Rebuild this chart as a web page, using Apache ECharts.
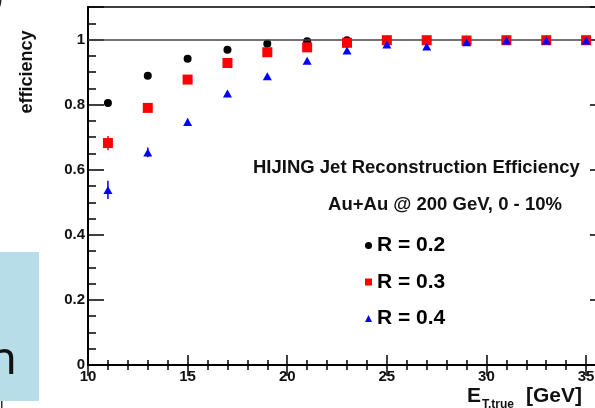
<!DOCTYPE html>
<html>
<head>
<meta charset="utf-8">
<script src="https://cdn.jsdelivr.net/npm/echarts@6/dist/echarts.min.js"></script>
<style>
html,body{margin:0;padding:0;background:#fff;}
#chart{width:595px;height:408px;}
</style>
</head>
<body>
<div id="chart"></div>
<script>
// ---- data ----
const xValues = [11, 13, 15, 17, 19, 21, 23, 25, 27, 29, 31, 33, 35];
const effR02 = [0.805, 0.889, 0.941, 0.969, 0.987, 0.995, 0.998, 0.999, 0.999, 0.999, 0.999, 0.999, 0.999];
const effR03 = [0.682, 0.790, 0.877, 0.928, 0.961, 0.976, 0.990, 0.998, 0.998, 0.997, 0.998, 0.998, 0.998];
const effR04 = [0.538, 0.653, 0.747, 0.834, 0.887, 0.935, 0.966, 0.985, 0.979, 0.992, 0.997, 0.997, 0.997];
const errR03 = [0.022, 0.012, 0.008, 0.006, 0.004, 0.003, 0.002, 0.001, 0.001, 0.001, 0.001, 0.001, 0.001];
const errR04 = [0.028, 0.015, 0.010, 0.008, 0.006, 0.005, 0.004, 0.003, 0.003, 0.002, 0.001, 0.001, 0.001];
const seriesNames = ['R = 0.2', 'R = 0.3', 'R = 0.4'];
const refLevel = 1;
const xTicks = {min: 10, max: 36, interval: 5};
const yTicks = {min: 0, max: 1.1, interval: 0.2};
const yTitle = 'efficiency';
const annoTitle = 'HIJING Jet Reconstruction Efficiency';
const annoSub = 'Au+Au @ 200 GeV, 0 - 10%';

const FONT = '"Liberation Sans", Arial, Helvetica, sans-serif';
const pairs = (ys) => xValues.map((x, i) => [x, ys[i]]);
const errData = (ys, es) => xValues.map((x, i) => [x, ys[i], es[i]]);

function errRenderer(color) {
  return function (params, api) {
    const x = api.value(0), y = api.value(1), e = api.value(2);
    const p1 = api.coord([x, y + e]);
    const p2 = api.coord([x, y - e]);
    return {type: 'line', shape: {x1: p1[0], y1: p1[1], x2: p2[0], y2: p2[1]},
            style: {stroke: color, lineWidth: 1.5}};
  };
}

const axisLineStyle = {show: true, lineStyle: {color: '#000', width: 2}};

const chart = echarts.init(document.getElementById('chart'), null, {renderer: 'canvas'});
chart.setOption({
  animation: false,
  backgroundColor: '#fff',
  grid: {left: 88, top: 7, width: 518, height: 358, containLabel: false, outerBoundsMode: 'none',
         show: true, borderColor: '#000', borderWidth: 1.5, backgroundColor: 'transparent'},
  xAxis: [
    {type: 'value', position: 'bottom', min: xTicks.min, max: xTicks.max, interval: xTicks.interval,
     axisLine: axisLineStyle,
     axisTick: {show: true, inside: true, length: 10, lineStyle: {color: '#000', width: 1.5}},
     minorTick: {show: true, splitNumber: 5, length: 5, lineStyle: {color: '#000', width: 1.5}},
     splitLine: {show: false}, minorSplitLine: {show: false},
     axisLabel: {show: true, margin: 4, fontSize: 15, fontWeight: 'bold', fontFamily: FONT, color: '#111',
                 showMaxLabel: false}},
    {type: 'value', position: 'top', min: xTicks.min, max: xTicks.max, interval: xTicks.interval,
     axisLine: axisLineStyle,
     axisTick: {show: true, inside: true, length: 11, lineStyle: {color: '#000', width: 1.5}},
     minorTick: {show: true, splitNumber: 5, length: 5, lineStyle: {color: '#000', width: 1.5}},
     splitLine: {show: false}, axisLabel: {show: false}}
  ],
  yAxis: [
    {type: 'value', position: 'left', min: yTicks.min, max: yTicks.max, interval: yTicks.interval,
     axisLine: axisLineStyle,
     axisTick: {show: true, inside: true, length: 16, lineStyle: {color: '#000', width: 1.5}},
     minorTick: {show: true, splitNumber: 4, length: 8, lineStyle: {color: '#000', width: 1.5}},
     splitLine: {show: false}, minorSplitLine: {show: false},
     axisLabel: {show: true, margin: 3, fontSize: 15, fontWeight: 'bold', fontFamily: FONT, color: '#111',
                 showMaxLabel: false}},
    {type: 'value', position: 'right', min: yTicks.min, max: yTicks.max, interval: yTicks.interval,
     axisLine: axisLineStyle,
     axisTick: {show: true, inside: true, length: 16, lineStyle: {color: '#000', width: 1.5}},
     minorTick: {show: true, splitNumber: 4, length: 8, lineStyle: {color: '#000', width: 1.5}},
     splitLine: {show: false}, axisLabel: {show: false}}
  ],
  legend: {
    orient: 'vertical', left: 365, top: 235, padding: 0, itemWidth: 7, itemHeight: 7, itemGap: 15.5,
    selectedMode: false,
    textStyle: {fontSize: 21, fontWeight: 'bold', fontFamily: FONT, color: '#000'},
    data: [
      {name: seriesNames[0], icon: 'circle', itemStyle: {color: '#000'}},
      {name: seriesNames[1], icon: 'rect', itemStyle: {color: '#ff0000'}},
      {name: seriesNames[2], icon: 'triangle', itemStyle: {color: '#0000ff'}}
    ]
  },
  series: [
    {name: seriesNames[0], type: 'scatter', data: pairs(effR02), symbol: 'circle', symbolSize: 8,
     itemStyle: {color: '#000', opacity: 1}, z: 3,
     markLine: {symbol: 'none', silent: true, label: {show: false},
                lineStyle: {color: '#444', width: 1.5, type: 'solid'},
                data: [{yAxis: refLevel}]}},
    {name: 'errR03', type: 'custom', renderItem: errRenderer('#ff0000'), data: errData(effR03, errR03), z: 4, silent: true},
    {name: seriesNames[1], type: 'scatter', data: pairs(effR03), symbol: 'rect', symbolSize: 10,
     itemStyle: {color: '#ff0000', opacity: 1}, z: 5},
    {name: 'errR04', type: 'custom', renderItem: errRenderer('#0000ff'), data: errData(effR04, errR04), z: 6, silent: true},
    {name: seriesNames[2], type: 'scatter', data: pairs(effR04), symbol: 'triangle', symbolSize: [9, 8],
     itemStyle: {color: '#0000ff', opacity: 1}, z: 7}
  ],
  graphic: [
    {type: 'text', x: 27, y: 72, rotation: Math.PI / 2, z: 10,
     style: {text: yTitle, fontSize: 18, fontWeight: 'bold', fontFamily: FONT, fill: '#111',
             align: 'center', verticalAlign: 'middle'}},
    {type: 'text', x: 467, y: 396, z: 10,
     style: {text: '{e|E}{s|T,true}{g|[GeV]}', align: 'left', verticalAlign: 'middle',
             rich: {
               e: {fontSize: 21, fontWeight: 'bold', fontFamily: FONT, fill: '#111', lineHeight: 22, verticalAlign: 'bottom'},
               s: {fontSize: 12, fontWeight: 'bold', fontFamily: FONT, fill: '#111', lineHeight: 12, verticalAlign: 'bottom', padding: [0, 0, -4, 1]},
               g: {fontSize: 21, fontWeight: 'bold', fontFamily: FONT, fill: '#111', lineHeight: 22, verticalAlign: 'bottom', padding: [0, 0, 0, 12]}
             }}},
    {type: 'text', x: 253, y: 168, z: 10,
     style: {text: annoTitle, fontSize: 18.5, fontWeight: 'bold', fontFamily: FONT, fill: '#111',
             align: 'left', verticalAlign: 'middle'}},
    {type: 'text', x: 445, y: 205, z: 10,
     style: {text: annoSub, fontSize: 18.5, fontWeight: 'bold', fontFamily: FONT, fill: '#111',
             align: 'center', verticalAlign: 'middle'}},
    {type: 'rect', shape: {x: 0, y: 252, width: 39, height: 149}, style: {fill: '#b7dde8'}, z: 10},
    {type: 'text', x: 17, y: 361, z: 11,
     style: {text: 'n', fontSize: 46, fontFamily: '"Noto Sans", "Open Sans", sans-serif', fill: '#111',
             align: 'right', verticalAlign: 'middle'}},
    {type: 'rect', shape: {x: 1, y: 401, width: 1.5, height: 7}, style: {fill: '#333'}, z: 10},
    {type: 'text', x: -4, y: 10, z: 10,
     style: {text: ')', fontSize: 20, fontFamily: FONT, fill: '#222', align: 'left', verticalAlign: 'bottom'}}
  ]
});
</script>
</body>
</html>
